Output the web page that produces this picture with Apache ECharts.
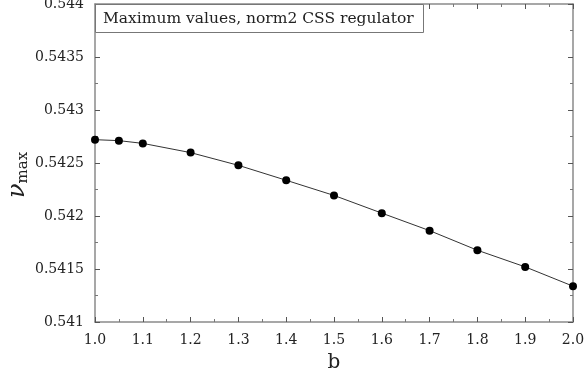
<!DOCTYPE html>
<html>
<head>
<meta charset="utf-8">
<script src="https://cdn.jsdelivr.net/npm/echarts@6/dist/echarts.min.js"></script>
<style>
  html, body { margin: 0; padding: 0; background: #fff; }
  #chart { width: 586px; height: 379px; }
</style>
</head>
<body>
<div id="chart"></div>
<script>
// Parameter b and the corresponding maximum values
const bValues = [1.0, 1.05, 1.1, 1.2, 1.3, 1.4, 1.5, 1.6, 1.7, 1.8, 1.9, 2.0];
const nuMax = [0.542720, 0.542711, 0.542685, 0.542598, 0.542478, 0.542337,
               0.542194, 0.542027, 0.541862, 0.541677, 0.541520, 0.541338];
const xTicks = { min: 1.0, max: 2.0, step: 0.1 };
const yTicks = { min: 0.541, max: 0.544, step: 0.0005 };
const boxTitle = 'Maximum values, norm2 CSS regulator';

const serif = 'DejaVu Serif';
const frameColor = '#8a8a8a';

function frameAxis(extra) {
  return Object.assign({
    type: 'value',
    axisLine: { show: true, onZero: false, lineStyle: { color: frameColor, width: 1.5 } },
    axisTick: { show: true, inside: true, length: 5, lineStyle: { color: '#555', width: 1 } },
    minorTick: { show: true, splitNumber: 2, length: 3, lineStyle: { color: '#777', width: 1 } },
    splitLine: { show: false },
    minorSplitLine: { show: false }
  }, extra);
}

const chart = echarts.init(document.getElementById('chart'), null, { renderer: 'canvas' });
chart.setOption({
  animation: false,
  backgroundColor: '#fff',
  grid: { left: 95, right: 13, top: 4, bottom: 57, containLabel: false, outerBoundsMode: 'none' },
  title: {
    text: boxTitle,
    left: 95, top: 4,
    padding: [7, 10, 6, 8],
    borderColor: '#777', borderWidth: 1,
    backgroundColor: '#fff',
    textStyle: { fontFamily: serif, fontSize: 15.5, fontWeight: 'normal', color: '#222' }
  },
  xAxis: [
    frameAxis({
      min: xTicks.min, max: xTicks.max, interval: xTicks.step,
      position: 'bottom',
      name: 'b', nameLocation: 'middle', nameGap: 31, nameMoveOverlap: false,
      nameTextStyle: { fontFamily: serif, fontSize: 20, color: '#222' },
      axisLabel: {
        fontFamily: serif, fontSize: 14, color: '#222', margin: 11,
        formatter: v => v.toFixed(1)
      }
    }),
    frameAxis({
      min: xTicks.min, max: xTicks.max, interval: xTicks.step,
      position: 'top', axisLabel: { show: false }
    })
  ],
  yAxis: [
    frameAxis({
      min: yTicks.min, max: yTicks.max, interval: yTicks.step,
      position: 'left',
      name: '{n|ν}{s|max}', nameLocation: 'middle', nameGap: 64, nameRotate: 90,
      nameMoveOverlap: false,
      nameTextStyle: {
        rich: {
          n: { fontFamily: serif, fontStyle: 'italic', fontSize: 24, color: '#222' },
          s: {
            fontFamily: serif, fontSize: 15, color: '#222',
            verticalAlign: 'bottom', padding: [12, 24, 0, 0]
          }
        }
      },
      axisLabel: {
        fontFamily: serif, fontSize: 14, color: '#222', margin: 11,
        formatter: v => String(parseFloat(v.toFixed(4)))
      }
    }),
    frameAxis({
      min: yTicks.min, max: yTicks.max, interval: yTicks.step,
      position: 'right', axisLabel: { show: false }
    })
  ],
  series: [{
    type: 'line',
    data: bValues.map((b, i) => [b, nuMax[i]]),
    symbol: 'circle',
    symbolSize: 8,
    clip: false,
    itemStyle: { color: '#000' },
    lineStyle: { color: '#333', width: 1 }
  }]
});
</script>
</body>
</html>
